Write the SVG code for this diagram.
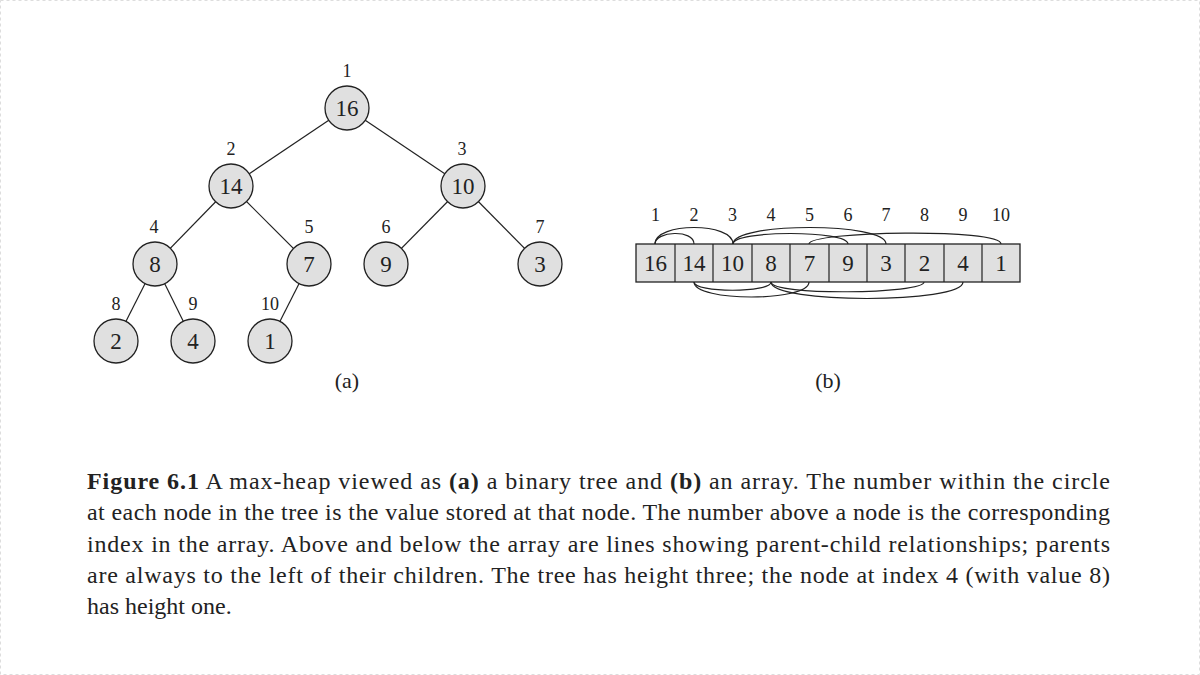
<svg xmlns="http://www.w3.org/2000/svg" width="1200" height="675" viewBox="0 0 1200 675">
<style>
text{font-family:"Liberation Serif","DejaVu Serif",serif;fill:#222}
.n{fill:#e0e0e0;stroke:#222;stroke-width:1.3}
.v{font-size:23px;text-anchor:middle}
.i{font-size:18px;text-anchor:middle}
.e{stroke:#222;stroke-width:1.2;fill:none}
.cap{font-size:24px}
</style>
<rect x="0.5" y="0.5" width="1199" height="674" fill="#fff" stroke="#ddd" stroke-dasharray="3,3"/>
<g id="edges">
<line class="e" x1="347" y1="108" x2="231" y2="186"/>
<line class="e" x1="347" y1="108" x2="463" y2="186"/>
<line class="e" x1="231" y1="186" x2="155" y2="264"/>
<line class="e" x1="231" y1="186" x2="309" y2="264"/>
<line class="e" x1="463" y1="186" x2="386" y2="264"/>
<line class="e" x1="463" y1="186" x2="540" y2="264"/>
<line class="e" x1="155" y1="264" x2="116" y2="341"/>
<line class="e" x1="155" y1="264" x2="193" y2="341"/>
<line class="e" x1="309" y1="264" x2="270" y2="341"/>
</g>
<g id="n1"><circle class="n" cx="347" cy="108" r="22"/><text class="v" x="347" y="116">16</text><text class="i" x="347" y="77">1</text></g>
<g id="n2"><circle class="n" cx="231" cy="186" r="22"/><text class="v" x="231" y="194">14</text><text class="i" x="231" y="155">2</text></g>
<g id="n3"><circle class="n" cx="463" cy="186" r="22"/><text class="v" x="463" y="194">10</text><text class="i" x="462" y="155">3</text></g>
<g id="n4"><circle class="n" cx="155" cy="264" r="22"/><text class="v" x="155" y="272">8</text><text class="i" x="154" y="233">4</text></g>
<g id="n5"><circle class="n" cx="309" cy="264" r="22"/><text class="v" x="309" y="272">7</text><text class="i" x="309" y="233">5</text></g>
<g id="n6"><circle class="n" cx="386" cy="264" r="22"/><text class="v" x="386" y="272">9</text><text class="i" x="386" y="233">6</text></g>
<g id="n7"><circle class="n" cx="540" cy="264" r="22"/><text class="v" x="540" y="272">3</text><text class="i" x="540" y="233">7</text></g>
<g id="n8"><circle class="n" cx="116" cy="341" r="22"/><text class="v" x="116" y="349">2</text><text class="i" x="116" y="310">8</text></g>
<g id="n9"><circle class="n" cx="193" cy="341" r="22"/><text class="v" x="193" y="349">4</text><text class="i" x="193" y="310">9</text></g>
<g id="n10"><circle class="n" cx="270" cy="341" r="22"/><text class="v" x="270" y="349">1</text><text class="i" x="270" y="310">10</text></g>
<text class="v" x="347" y="388" style="font-size:22px">(a)</text>
<text class="v" x="828" y="388" style="font-size:22px">(b)</text>
<g id="array">
<rect class="n" x="636" y="244" width="384" height="38"/>
<path class="e" d="M675 244V282M713 244V282M752 244V282M790 244V282M829 244V282M867 244V282M905 244V282M944 244V282M982 244V282"/>
<g class="v"><text x="655.5" y="271">16</text><text x="694" y="271">14</text><text x="732.5" y="271">10</text><text x="771" y="271">8</text><text x="809.5" y="271">7</text><text x="848" y="271">9</text><text x="886" y="271">3</text><text x="924.5" y="271">2</text><text x="963" y="271">4</text><text x="1001" y="271">1</text></g>
<g class="i"><text x="655.5" y="221">1</text><text x="694" y="221">2</text><text x="732.5" y="221">3</text><text x="771" y="221">4</text><text x="809.5" y="221">5</text><text x="848" y="221">6</text><text x="886" y="221">7</text><text x="924.5" y="221">8</text><text x="963" y="221">9</text><text x="1001" y="221">10</text></g>
</g>
<g id="arcs" class="e">
<path d="M655 244C655 231 694 229 694 244"/>
<path d="M655 244C655 222 733 222 733 244"/>
<path d="M733 244C733 230 848 230 848 244"/>
<path d="M733 244C733 222 886 222 886 244"/>
<path d="M809 244C809 231 1001 228 1001 244"/>
<path d="M694 282C694 293 771 293 771 282"/>
<path d="M694 282C694 302 809 302 809 282"/>
<path d="M771 282C771 296 924 294 924 282"/>
<path d="M771 282C771 304 963 304 963 282"/>
</g>
<g class="cap">
<text x="87" y="489" textLength="1023" lengthAdjust="spacing"><tspan font-weight="bold">Figure 6.1</tspan>   A max-heap viewed as <tspan font-weight="bold">(a)</tspan> a binary tree and <tspan font-weight="bold">(b)</tspan> an array. The number within the circle</text>
<text x="87" y="520" textLength="1023" lengthAdjust="spacing">at each node in the tree is the value stored at that node. The number above a node is the corresponding</text>
<text x="87" y="552" textLength="1023" lengthAdjust="spacing">index in the array. Above and below the array are lines showing parent-child relationships; parents</text>
<text x="87" y="583" textLength="1023" lengthAdjust="spacing">are always to the left of their children. The tree has height three; the node at index 4 (with value 8)</text>
<text x="87" y="614">has height one.</text>
</g>
</svg>
